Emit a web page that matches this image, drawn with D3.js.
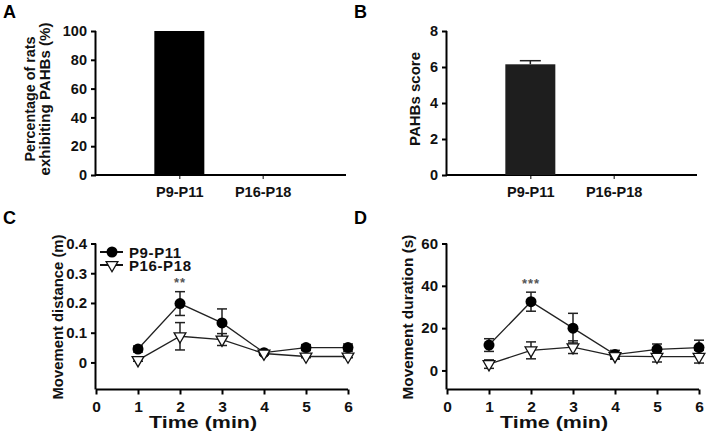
<!DOCTYPE html>
<html><head><meta charset="utf-8">
<script src="https://cdn.jsdelivr.net/npm/d3@7"></script>
<style>body{margin:0;background:#fff}svg{display:block}text{font-family:Arial,"Liberation Sans",sans-serif;font-weight:bold}</style>
</head><body>
<svg id="c" width="706" height="433"></svg>
<script>
const groups = ["P9-P11", "P16-P18"];
const pctValues = [100, 0];
const scoreValues = [6.15, 0];
const scoreErr = [0.2, 0];
const pctTicks = [0, 20, 40, 60, 80, 100];
const scoreTicks = [0, 2, 4, 6, 8];
const timePoints = [1, 2, 3, 4, 5, 6];
const timeTicks = [0, 1, 2, 3, 4, 5, 6];
const distYoung = [0.045, 0.198, 0.133, 0.033, 0.05, 0.05];
const distYoungErr = [0.01, 0.04, 0.047, 0.005, 0.01, 0.012];
const distOld = [0.008, 0.088, 0.077, 0.03, 0.02, 0.02];
const distOldErr = [0.004, 0.046, 0.02, 0.004, 0.004, 0.004];
const distTicks = [0, 0.1, 0.2, 0.3, 0.4];
const durYoung = [12, 32.5, 20, 7.5, 10, 10.8];
const durYoungErr = [3, 4.5, 7, 2, 2.5, 3.5];
const durOld = [3, 9.5, 11, 6.8, 6.5, 6.5];
const durOldErr = [2, 4, 3, 1.5, 2.5, 3];
const durTicks = [0, 20, 40, 60];

const svg = d3.select("#c");
const fmtDec = d => d === 0 ? "0" : d3.format(".1f")(d);

function axisStyle(g, fs){
  g.selectAll("path,line").attr("stroke","#000").attr("stroke-width",2);
  g.selectAll("text").attr("font-size",fs).attr("fill","#111");
}

function rotTitle(x, cy, lines, fs, lens){
  const t = svg.append("text").attr("transform",`translate(${x},${cy}) rotate(-90)`)
    .attr("text-anchor","middle").attr("font-size",fs).attr("fill","#111");
  lines.forEach((l,i) => {
    const s = t.append("tspan").attr("x",0).attr("y", i*15).text(l);
    if (lens && lens[i]) s.attr("textLength", lens[i]).attr("lengthAdjust","spacingAndGlyphs");
  });
}

function barPanel(ox, letter, yDomain, ticks, vals, errs, titleLines, titleX, titleLens, barColor){
  const x = d3.scaleLinear().domain([0,3]).range([ox, ox+250]);
  const y = d3.scaleLinear().domain(yDomain).range([175, 31]);
  svg.append("g").attr("transform",`translate(${ox},0)`)
    .call(d3.axisLeft(y).tickValues(ticks).tickSize(5).tickPadding(4).tickSizeOuter(0).tickFormat(d3.format("d")))
    .call(g => axisStyle(g, 14.5)).select(".domain").attr("d",`M-0.5,${y(yDomain[1])}V${y(yDomain[0])}`);
  const xa = svg.append("g").attr("transform",`translate(0,175)`)
    .call(d3.axisBottom(x).tickValues([1,2]).tickSize(4).tickPadding(8).tickSizeOuter(0).tickFormat(d => groups[d-1]))
    .call(g => axisStyle(g, 14.5));
  xa.select(".domain").attr("d",`M${ox},0H${ox+250}`);
  xa.selectAll(".tick line").attr("stroke-width",1);
  vals.forEach((v,i) => {
    if (v > 0) {
      svg.append("rect").attr("x", x(i+1-0.3)).attr("width", x(0.6)-x(0))
        .attr("y", y(v)).attr("height", y(0)-y(v)).attr("fill", barColor);
      if (errs && errs[i] > 0) {
        svg.append("line").attr("x1",x(i+1)).attr("x2",x(i+1)).attr("y1",y(v)).attr("y2",y(v+errs[i])).attr("stroke","#222").attr("stroke-width",1.5);
        svg.append("line").attr("x1",x(i+1)-10.5).attr("x2",x(i+1)+10.5).attr("y1",y(v+errs[i])).attr("y2",y(v+errs[i])).attr("stroke","#222").attr("stroke-width",1.5);
      }
    }
  });
  rotTitle(titleX, 99, titleLines, 15, titleLens);
  svg.append("text").attr("x", ox-93).attr("y", 18).attr("font-size",18).text(letter);
}

barPanel(96, "A", [0,100], pctTicks, pctValues, null, ["Percentage of rats","exhibiting PAHBs (%)"], 35, [125,153], "#000");
barPanel(447, "B", [0,8], scoreTicks, scoreValues, scoreErr, ["PAHBs score"], 420, [94], "#1e1e1e");

function linePanel(ox, letter, yDomain, ticks, young, youngErr, old, oldErr, title, titleX, stars, fmt, legend){
  const x = d3.scaleLinear().domain([0,6]).range([ox, ox+252]);
  const y = d3.scaleLinear().domain(yDomain).range([389.5, 243.5]);
  const ya = svg.append("g").attr("transform",`translate(${ox},0)`)
    .call(d3.axisLeft(y).tickValues(ticks).tickSize(5).tickPadding(4).tickSizeOuter(0).tickFormat(fmt))
    .call(g => axisStyle(g, 15));
  ya.select(".domain").attr("d",`M-0.5,${y(yDomain[1])}V${y(yDomain[0])}`);
  const xa = svg.append("g").attr("transform",`translate(0,389.5)`)
    .call(d3.axisBottom(x).tickValues(timeTicks).tickSize(5).tickPadding(6).tickSizeOuter(0).tickFormat(d3.format("d")))
    .call(g => axisStyle(g, 15.5));

  xa.select(".domain").attr("d",`M${ox},0H${ox+252}`);

  const line = d3.line().x((d,i) => x(timePoints[i])).y(d => y(d));
  [[young,youngErr],[old,oldErr]].forEach(([vals,errs]) => {
    svg.append("path").attr("d", line(vals)).attr("fill","none").attr("stroke","#222").attr("stroke-width",1.3);
    vals.forEach((v,i) => {
      const cx = x(timePoints[i]);
      const hi = v + errs[i], lo = v - errs[i];
      const g = svg.append("g").attr("stroke","#222").attr("stroke-width",1.5);
      g.append("line").attr("x1",cx).attr("x2",cx).attr("y1",y(lo)).attr("y2",y(hi));
      g.append("line").attr("x1",cx-5).attr("x2",cx+5).attr("y1",y(hi)).attr("y2",y(hi));
      g.append("line").attr("x1",cx-5).attr("x2",cx+5).attr("y1",y(lo)).attr("y2",y(lo));
    });
  });
  young.forEach((v,i) => {
    svg.append("circle").attr("cx",x(timePoints[i])).attr("cy",y(v)).attr("r",5.5).attr("fill","#000");
  });
  const tri = d3.symbol().type(d3.symbolTriangle).size(60);
  old.forEach((v,i) => {
    svg.append("path").attr("d",tri()).attr("transform",`translate(${x(timePoints[i])},${y(v)}) rotate(180)`)
      .attr("fill","#fff").attr("stroke","#111").attr("stroke-width",1.3);
  });
  svg.append("text").attr("x", x(2)).attr("y", y(stars.at)).attr("text-anchor","middle").attr("font-size",13).attr("fill","#555").attr("letter-spacing",1).text(stars.txt);

  rotTitle(titleX, 317, [title], 15, [165]);
  svg.append("text").attr("x", x(2.55)).attr("y", 428).attr("text-anchor","middle").attr("font-size",17)
    .attr("textLength",108).attr("lengthAdjust","spacingAndGlyphs").attr("fill","#111").text("Time (min)");
  svg.append("text").attr("x", ox-93).attr("y", 224).attr("font-size",18).text(letter);

  if (legend) {
    const lx = ox+4;
    svg.append("line").attr("x1",lx).attr("x2",lx+23).attr("y1",252).attr("y2",252).attr("stroke","#111").attr("stroke-width",2);
    svg.append("circle").attr("cx",lx+12).attr("cy",252).attr("r",5.5).attr("fill","#000");
    svg.append("text").attr("x",lx+29).attr("y",257.5).attr("font-size",15).attr("letter-spacing",0.6).attr("fill","#111").text(groups[0]);
    svg.append("line").attr("x1",lx).attr("x2",lx+23).attr("y1",265).attr("y2",265).attr("stroke","#111").attr("stroke-width",2);
    svg.append("path").attr("d",tri()).attr("transform",`translate(${lx+12},265) rotate(180)`).attr("fill","#fff").attr("stroke","#111").attr("stroke-width",1.3);
    svg.append("text").attr("x",lx+29).attr("y",270.5).attr("font-size",15).attr("letter-spacing",0.6).attr("fill","#111").text(groups[1]);
  }
}

linePanel(96, "C", [-0.091, 0.4], distTicks, distYoung, distYoungErr, distOld, distOldErr, "Movement distance (m)", 63, {at:0.254, txt:"**"}, fmtDec, true);
linePanel(447, "D", [-9, 60], durTicks, durYoung, durYoungErr, durOld, durOldErr, "Movement duration (s)", 413, {at:39, txt:"***"}, d3.format("d"), false);
</script>
</body></html>
